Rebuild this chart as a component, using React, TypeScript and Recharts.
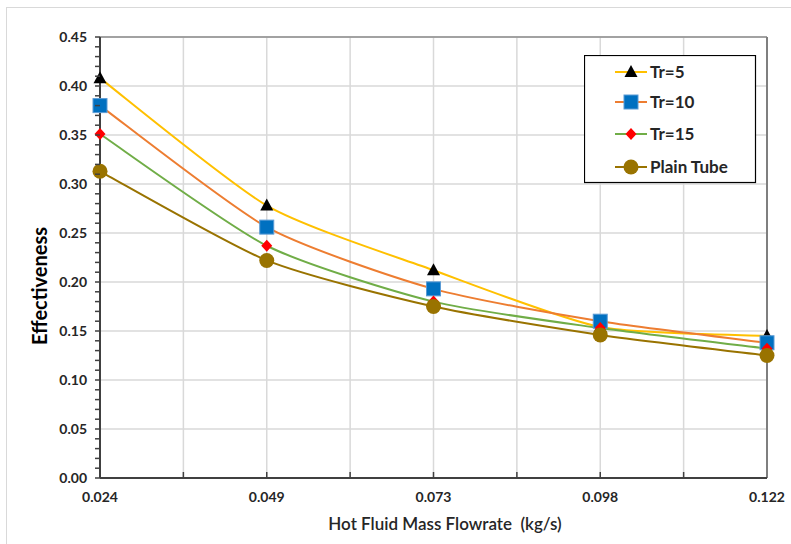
import React from "react";
import {
  LineChart, Line, XAxis, YAxis, CartesianGrid, ReferenceLine,
} from "recharts";

const FONT = "Lato, 'Noto Sans', sans-serif";

// ─── Data ─────────────────────────────────────────────────────────────────────
const FLOWRATES = ["0.024", "0.049", "0.073", "0.098", "0.122"];
const TR5 = [0.408, 0.278, 0.212, 0.154, 0.145];
const TR10 = [0.380, 0.256, 0.193, 0.160, 0.138];
const TR15 = [0.351, 0.237, 0.180, 0.153, 0.132];
const PLAIN = [0.313, 0.222, 0.175, 0.146, 0.125];

const Y_MAJOR = [0, 0.05, 0.1, 0.15, 0.2, 0.25, 0.3, 0.35, 0.4, 0.45];
const Y_MINOR = Array.from({ length: 46 }, (_, i) => i / 100);
const X_TICKS = [0, 0.5, 1, 1.5, 2, 2.5, 3, 3.5, 4];
const Y_MAX = 0.45;

const data = FLOWRATES.map((f, i) => ({
  idx: i,
  flow: f,
  tr5: TR5[i],
  tr10: TR10[i],
  tr15: TR15[i],
  plain: PLAIN[i],
}));

const SERIES = [
  { key: "tr5", name: "Tr=5", line: "#FFC000", shape: "triangle" },
  { key: "tr10", name: "Tr=10", line: "#ED7D31", shape: "square" },
  { key: "tr15", name: "Tr=15", line: "#70AD47", shape: "diamond" },
  { key: "plain", name: "Plain Tube", line: "#997300", shape: "circle" },
];

// Excel-style smoothed line (cardinal spline as cubic Bezier, mild tension)
const SMOOTH_DIV = 9;
// eslint-disable-next-line @typescript-eslint/no-explicit-any
function excelSmooth(context: any) {
  let pts: [number, number][] = [];
  return {
    areaStart() {},
    areaEnd() {},
    lineStart() { pts = []; },
    point(x: number, y: number) { pts.push([+x, +y]); },
    lineEnd() {
      if (!pts.length) return;
      context.moveTo(pts[0][0], pts[0][1]);
      for (let i = 0; i < pts.length - 1; i++) {
        const p0 = pts[i - 1] || pts[i];
        const p1 = pts[i];
        const p2 = pts[i + 1];
        const p3 = pts[i + 2] || p2;
        context.bezierCurveTo(
          p1[0] + (p2[0] - p0[0]) / SMOOTH_DIV, p1[1] + (p2[1] - p0[1]) / SMOOTH_DIV,
          p2[0] - (p3[0] - p1[0]) / SMOOTH_DIV, p2[1] - (p3[1] - p1[1]) / SMOOTH_DIV,
          p2[0], p2[1],
        );
      }
    },
  };
}

// ─── Markers ──────────────────────────────────────────────────────────────────
function Marker({ shape, cx, cy }: { shape: string; cx: number; cy: number }) {
  if (shape === "triangle")
    return <polygon points={`${cx},${cy - 7} ${cx + 6.5},${cy + 5} ${cx - 6.5},${cy + 5}`} fill="#000" />;
  if (shape === "square")
    return <rect x={cx - 7} y={cy - 7} width={14} height={14} fill="#0070C0" stroke="#5b9bd5" strokeWidth={1} />;
  if (shape === "diamond")
    return <polygon points={`${cx},${cy - 6} ${cx + 5.5},${cy} ${cx},${cy + 6} ${cx - 5.5},${cy}`} fill="#FF0000" />;
  return <circle cx={cx} cy={cy} r={7.5} fill="#997300" />;
}

function makeDot(shape: string) {
  // eslint-disable-next-line @typescript-eslint/no-explicit-any
  return (p: any) => {
    if (p.cx == null || p.cy == null) return <g key={p.key} />;
    return <g key={p.key}><Marker shape={shape} cx={p.cx} cy={p.cy} /></g>;
  };
}

// ─── Axis ticks ───────────────────────────────────────────────────────────────
// eslint-disable-next-line @typescript-eslint/no-explicit-any
function YTick(p: any) {
  const v = p.payload.value as number;
  const major = Math.round(v * 100) % 5 === 0;
  return (
    <g>
      <line x1={95} x2={100} y1={p.y} y2={p.y} stroke="#404040" strokeWidth={1.5} />
      {major && (
        <text x={87} y={p.y} dy={4.8} textAnchor="end" fontFamily={FONT} fontWeight={700}
          fontSize={14} fill="#262626">{v.toFixed(2)}</text>
      )}
    </g>
  );
}

// eslint-disable-next-line @typescript-eslint/no-explicit-any
function XTick(p: any) {
  const v = p.payload.value as number;
  const label = Number.isInteger(v) ? FLOWRATES[v] : "";
  return (
    <g>
      {v > 0 && v < 4 && <line x1={p.x} x2={p.x} y1={478} y2={472} stroke="#404040" strokeWidth={1.5} />}
      {label && (
        <text x={p.x} y={502} textAnchor="middle" fontFamily={FONT} fontWeight={700}
          fontSize={14} fill="#262626">{label}</text>
      )}
    </g>
  );
}

// ─── Legend ───────────────────────────────────────────────────────────────────
function LegendBox() {
  const rows = [17, 47, 79, 112];
  return (
    <svg width={173} height={129} style={{ position: "absolute", left: 584, top: 55, display: "block" }}>
      <rect x={0.5} y={0.5} width={171} height={127} fill="#fff" stroke="#000" strokeWidth={1.2} />
      {SERIES.map((s, i) => {
        const y = rows[i];
        return (
          <g key={s.key}>
            <line x1={31} x2={63} y1={y} y2={y} stroke={s.line} strokeWidth={2} />
            <Marker shape={s.shape} cx={47} cy={y} />
            <text x={66} y={y} dy={6} fontFamily={FONT} fontWeight={700} fontSize={17} fill="#262626">
              {s.name}
            </text>
          </g>
        );
      })}
    </svg>
  );
}

export default function App() {
  return (
    <div style={{ position: "absolute", left: 0, top: 0, width: 791, height: 544, background: "#fff" }}>
      <div style={{
        position: "absolute", left: 6, top: 7, right: -2, bottom: -2,
        borderLeft: "1px solid #d9d9d9", borderTop: "1px solid #d9d9d9",
      }} />
      <div style={{ position: "absolute", left: 0, top: 0 }}>
        <LineChart
          width={791}
          height={544}
          data={data}
          margin={{ top: 37, right: 24, left: 0, bottom: 0 }}
        >
          <CartesianGrid
            stroke="#d9d9d9"
            strokeWidth={1.5}
            // eslint-disable-next-line @typescript-eslint/no-explicit-any
            horizontalCoordinatesGenerator={({ offset }: any) =>
              Y_MAJOR.map((v) => offset.top + offset.height * (1 - v / Y_MAX))}
          />
          <XAxis
            dataKey="idx"
            type="number"
            domain={[0, 4]}
            ticks={X_TICKS}
            interval={0}
            height={66}
            tick={XTick}
            tickLine={false}
            axisLine={{ stroke: "#404040", strokeWidth: 2 }}
            label={{
              content: () => (
                <text x={445} y={530} textAnchor="middle" fontFamily={FONT} fontSize={17}
                  fontWeight={600} fill="#262626" style={{ whiteSpace: "pre" }}>
                  {"Hot Fluid Mass Flowrate\u00a0 (kg/s)"}
                </text>
              ),
            }}
          />
          <YAxis
            type="number"
            domain={[0, Y_MAX]}
            ticks={Y_MINOR}
            interval={0}
            width={100}
            tick={YTick}
            tickLine={false}
            axisLine={{ stroke: "#404040", strokeWidth: 2 }}
            label={{
              content: () => (
                <text transform="translate(47,286) rotate(-90)" textAnchor="middle" fontFamily={FONT}
                  fontSize={20} fontWeight={700} fill="#000">Effectiveness</text>
              ),
            }}
          />
          <ReferenceLine y={Y_MAX} stroke="#8c8c8c" strokeWidth={1.5} />
          <ReferenceLine x={4} stroke="#7f7f7f" strokeWidth={2} />
          {SERIES.map((s) => (
            <Line
              key={s.key}
              type={excelSmooth}
              dataKey={s.key}
              name={s.name}
              stroke={s.line}
              strokeWidth={2}
              dot={makeDot(s.shape)}
              activeDot={false}
              isAnimationActive={false}
            />
          ))}
        </LineChart>
      </div>
      <LegendBox />
    </div>
  );
}
